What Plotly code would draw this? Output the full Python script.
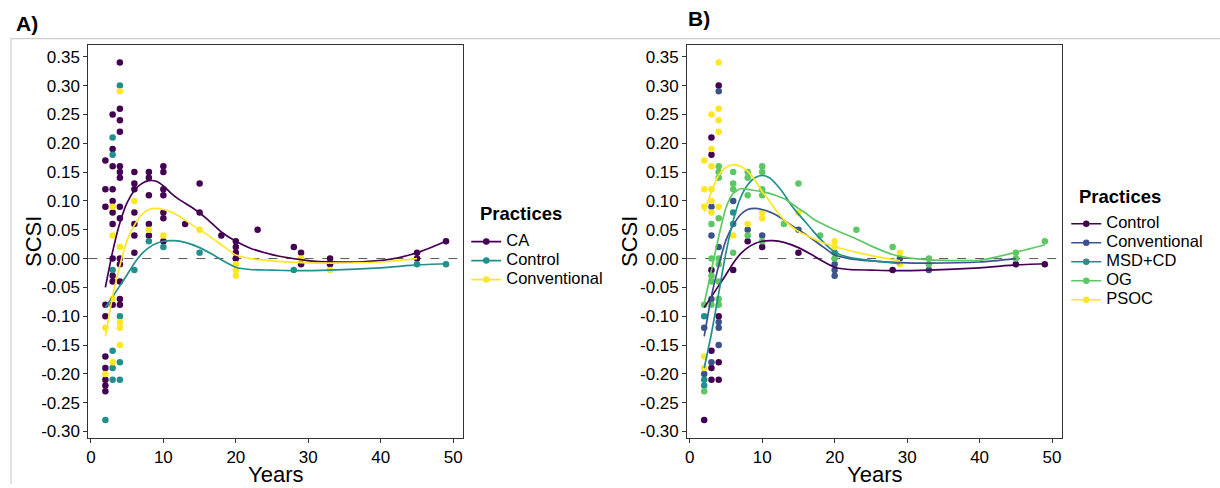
import plotly.graph_objects as go

W, H = 1220, 488
FONT = "Liberation Sans, Arial, sans-serif"

# ---------------- data ----------------
# observed points, grouped by the five practices of panel B
psoc_x = [2, 2, 2, 2, 2, 3, 3, 3, 3, 3, 3, 4, 4, 4, 4, 4, 6, 8, 10, 10, 15, 20, 20, 29, 29]
psoc_y = [0.17, 0.12, 0.09, -0.17, -0.19, 0.25, 0.19, 0.16, 0.12, 0.10, 0.08,
          0.34, 0.26, 0.24, 0.22, 0.09, 0.04, 0.06, 0.08, 0.07, 0.08, 0.03, 0.02, 0.01, -0.01]

og_x = [2, 2, 3, 3, 3, 3, 3, 4, 4, 4, 4, 4, 4, 4, 4, 4, 6, 6, 6, 6, 8, 8, 8, 8,
        10, 10, 10, 10, 10, 13, 15, 18, 20, 23, 28, 33, 33, 45, 45, 49]
og_y = [-0.08, -0.23, 0.06, 0.00, -0.03, -0.04, -0.08,
        0.16, 0.15, 0.14, 0.07, 0.00, -0.01, -0.04, -0.07, -0.08,
        0.15, 0.13, 0.12, 0.01, 0.15, 0.14, 0.11, 0.04,
        0.16, 0.15, 0.12, 0.11, 0.03, 0.06, 0.13, 0.04, 0.00, 0.05, 0.02, 0.00, -0.01, 0.01, 0.00, 0.03]

msd_x = [2, 2, 2, 6, 6, 20]
msd_y = [-0.10, -0.21, -0.22, 0.08, 0.06, 0.01]

ctrl_x = [2, 3, 3, 3, 3, 3, 3, 4, 4, 4, 4, 6, 8, 10, 15, 28, 45, 49]
ctrl_y = [-0.28, 0.21, 0.18, -0.02, -0.16, -0.19, -0.21, 0.30, -0.10, -0.18, -0.21,
          -0.02, 0.03, 0.02, 0.01, -0.02, -0.01, -0.01]

conv_x = [2, 2, 3, 3, 3, 3, 4, 4, 4, 4, 4, 6, 8, 10, 15, 20, 20, 20, 29, 33]
conv_y = [-0.12, -0.20, 0.09, 0.04, -0.07, -0.18, 0.29, 0.02, -0.11, -0.12, -0.15,
          0.10, 0.05, 0.04, 0.05, -0.01, -0.02, -0.03, 0.00, -0.02]

# smoothed curves
ca_sx = [2, 3, 4, 5, 6, 7, 8, 9, 10, 11, 12, 13, 14, 15, 16, 18, 20, 22, 24, 26, 29, 31, 34, 37, 41, 45, 49]
ca_sy = [-0.050, 0.012, 0.062, 0.097, 0.118, 0.130, 0.135, 0.134, 0.126, 0.114, 0.104, 0.096, 0.088,
         0.079, 0.069, 0.046, 0.030, 0.018, 0.010, 0.004, -0.002, -0.005, -0.006, -0.006, -0.002, 0.010, 0.030]

ctrl_sx = [2, 3, 4, 5, 6, 7, 8, 9, 10, 11.5, 13, 15, 16.8, 18, 20, 22, 25, 28, 33, 40, 45, 49]
ctrl_sy = [-0.085, -0.066, -0.047, -0.028, -0.008, 0.008, 0.019, 0.026, 0.030, 0.031, 0.028, 0.019,
           0.007, -0.002, -0.015, -0.019, -0.020, -0.021, -0.020, -0.016, -0.011, -0.009]

conv_sx = [2, 3, 4, 5, 6, 7, 8, 9, 10, 11, 12, 14, 16, 18, 20, 22, 25, 29, 33, 40, 45]
conv_sy = [-0.135, -0.065, -0.012, 0.032, 0.058, 0.076, 0.085, 0.087, 0.085, 0.081, 0.075, 0.058,
           0.042, 0.024, 0.006, 0.000, -0.004, -0.007, -0.008, -0.006, 0.000]

msd_sx = [2, 3, 4, 5, 6, 7, 8, 9, 10, 11, 12, 13, 14, 15, 16, 17, 18, 20, 22, 24, 29]
msd_sy = [-0.190, -0.130, -0.060, 0.010, 0.066, 0.105, 0.128, 0.140, 0.144, 0.140, 0.128, 0.112,
          0.093, 0.077, 0.063, 0.048, 0.034, 0.011, 0.002, -0.002, -0.009]

og_sx = [2, 3, 4, 5, 6, 7, 8, 9, 10, 11, 12, 13, 14, 15, 16, 17, 18, 20, 23, 25, 28, 31, 35, 40, 45, 49]
og_sy = [-0.078, -0.020, 0.038, 0.088, 0.113, 0.121, 0.120, 0.118, 0.116, 0.113, 0.109, 0.104, 0.096,
         0.087, 0.079, 0.069, 0.062, 0.050, 0.034, 0.022, 0.007, 0.000, -0.003, -0.003, 0.011, 0.024]

psoc_sx = [2, 3, 4, 5, 6, 7, 8, 9, 10, 11, 12, 13, 14, 15, 16, 18, 20, 22, 24, 26, 29]
psoc_sy = [0.081, 0.116, 0.145, 0.158, 0.163, 0.160, 0.151, 0.136, 0.116, 0.100, 0.082, 0.067,
           0.056, 0.047, 0.041, 0.029, 0.021, 0.014, 0.008, 0.003, -0.004]

x_tick_vals = [0, 10, 20, 30, 40, 50]
x_tick_labels = ["0", "10", "20", "30", "40", "50"]
y_tick_vals = [-0.30, -0.25, -0.20, -0.15, -0.10, -0.05, 0.00, 0.05, 0.10, 0.15, 0.20, 0.25, 0.30, 0.35]
y_tick_labels = ["-0.30", "-0.25", "-0.20", "-0.15", "-0.10", "-0.05", "0.00",
                 "0.05", "0.10", "0.15", "0.20", "0.25", "0.30", "0.35"]

# CA in panel A pools PSOC, OG and MSD+CD
ca_x = psoc_x + og_x + msd_x
ca_y = psoc_y + og_y + msd_y

groups_a = [
    ("CA", ca_x, ca_y, ca_sx, ca_sy, "#440154"),
    ("Control", ctrl_x, ctrl_y, ctrl_sx, ctrl_sy, "#21908C"),
    ("Conventional", conv_x, conv_y, conv_sx, conv_sy, "#FDE725"),
]
groups_b = [
    ("Control", ctrl_x, ctrl_y, ctrl_sx, ctrl_sy, "#440154"),
    ("Conventional", conv_x, conv_y, conv_sx, conv_sy, "#3B528B"),
    ("MSD+CD", msd_x, msd_y, msd_sx, msd_sy, "#21908C"),
    ("OG", og_x, og_y, og_sx, og_sy, "#5DC863"),
    ("PSOC", psoc_x, psoc_y, psoc_sx, psoc_sy, "#FDE725"),
]

MS = 6.5
LW = 1.7

fig = go.Figure()

def add_panel(groups, xa, ya, legend_name):
    for name, px_, py_, sx, sy, col in groups:
        fig.add_trace(go.Scatter(x=px_, y=py_, mode="markers", xaxis=xa, yaxis=ya,
                                 marker=dict(color=col, size=MS), showlegend=False, hoverinfo="x+y"))
    for name, px_, py_, sx, sy, col in groups:
        fig.add_trace(go.Scatter(x=sx, y=sy, mode="lines", xaxis=xa, yaxis=ya,
                                 line=dict(color=col, width=LW, shape="spline", smoothing=0.6),
                                 showlegend=False, hoverinfo="skip"))
    for name, px_, py_, sx, sy, col in groups:
        fig.add_trace(go.Scatter(x=[None], y=[None], mode="lines+markers", xaxis=xa, yaxis=ya,
                                 name='<span style="font-size:16.5px">%s</span>' % name,
                                 marker=dict(color=col, size=MS), line=dict(color=col, width=LW),
                                 legend=legend_name, showlegend=True))

add_panel(groups_a, "x", "y", "legend")
add_panel(groups_b, "x2", "y2", "legend2")

def fx(p):
    return p / W

def fy(p):
    return 1 - p / H

ax_common = dict(showline=True, mirror=True, linecolor="#333333", linewidth=1,
                 ticks="outside", ticklen=4, tickcolor="#333333", tickwidth=1,
                 showgrid=False, zeroline=False,
                 tickfont=dict(family=FONT, size=17, color="black"))

xr = [-0.35, 51.35]
yr = [-0.311, 0.371]

fig.update_layout(
    width=W, height=H,
    margin=dict(l=0, r=0, t=0, b=0),
    paper_bgcolor="white", plot_bgcolor="white",
    font=dict(family=FONT, color="black"),
    xaxis=dict(domain=[fx(86.5), fx(461.8)], range=xr, tickvals=x_tick_vals, ticktext=x_tick_labels,
               anchor="y", **ax_common),
    yaxis=dict(domain=[fy(441.5), fy(45)], range=yr, tickvals=y_tick_vals, ticktext=y_tick_labels,
               anchor="x", **ax_common),
    xaxis2=dict(domain=[fx(686.3), fx(1061.6)], range=xr, tickvals=x_tick_vals, ticktext=x_tick_labels,
                anchor="y2", **ax_common),
    yaxis2=dict(domain=[fy(441.5), fy(45)], range=yr, tickvals=y_tick_vals, ticktext=y_tick_labels,
                anchor="x2", **ax_common),
    legend=dict(x=fx(465), y=fy(229), xanchor="left", yanchor="top",
                bgcolor="rgba(0,0,0,0)", font=dict(family=FONT, size=12, color="black"),
                tracegroupgap=0),
    legend2=dict(x=fx(1066), y=fy(211), xanchor="left", yanchor="top",
                 bgcolor="rgba(0,0,0,0)", font=dict(family=FONT, size=12, color="black"),
                 tracegroupgap=0),
    showlegend=True,
)

shapes = []
# dashed zero lines
for xref, yref in (("x domain", "y"), ("x2 domain", "y2")):
    shapes.append(dict(type="line", xref=xref, yref=yref, x0=0, x1=1, y0=0, y1=0,
                       line=dict(color="#555555", width=1, dash="dash"), layer="below"))
# document frame lines
shapes.append(dict(type="line", xref="paper", yref="paper", x0=fx(9), x1=1, y0=fy(39), y1=fy(39),
                   line=dict(color="#c4c4c4", width=1)))
shapes.append(dict(type="line", xref="paper", yref="paper", x0=fx(9), x1=fx(9), y0=fy(39), y1=0,
                   line=dict(color="#c4c4c4", width=1)))
fig.update_layout(shapes=shapes)

annotations = [
    dict(text="<b>A)</b>", x=fx(25), y=fy(24), xref="paper", yref="paper", showarrow=False,
         font=dict(family=FONT, size=21, color="black"), xanchor="center", yanchor="middle"),
    dict(text="<b>B)</b>", x=fx(698), y=fy(19), xref="paper", yref="paper", showarrow=False,
         font=dict(family=FONT, size=21, color="black"), xanchor="center", yanchor="middle"),
    dict(text="<b>Practices</b>", x=fx(477), y=fy(215), xref="paper", yref="paper", showarrow=False,
         font=dict(family=FONT, size=18.5, color="black"), xanchor="left", yanchor="middle"),
    dict(text="<b>Practices</b>", x=fx(1077), y=fy(198), xref="paper", yref="paper", showarrow=False,
         font=dict(family=FONT, size=18.5, color="black"), xanchor="left", yanchor="middle"),
    dict(text="SCSI", x=fx(31), y=fy(243), xref="paper", yref="paper", showarrow=False, textangle=-90,
         font=dict(family=FONT, size=22, color="black"), xanchor="center", yanchor="middle"),
    dict(text="SCSI", x=fx(628), y=fy(243), xref="paper", yref="paper", showarrow=False, textangle=-90,
         font=dict(family=FONT, size=22, color="black"), xanchor="center", yanchor="middle"),
    dict(text="Years", x=fx(274), y=fy(478), xref="paper", yref="paper", showarrow=False,
         font=dict(family=FONT, size=22, color="black"), xanchor="center", yanchor="middle"),
    dict(text="Years", x=fx(874), y=fy(478), xref="paper", yref="paper", showarrow=False,
         font=dict(family=FONT, size=22, color="black"), xanchor="center", yanchor="middle"),
]
fig.update_layout(annotations=annotations)

fig.write_html("out.html")
